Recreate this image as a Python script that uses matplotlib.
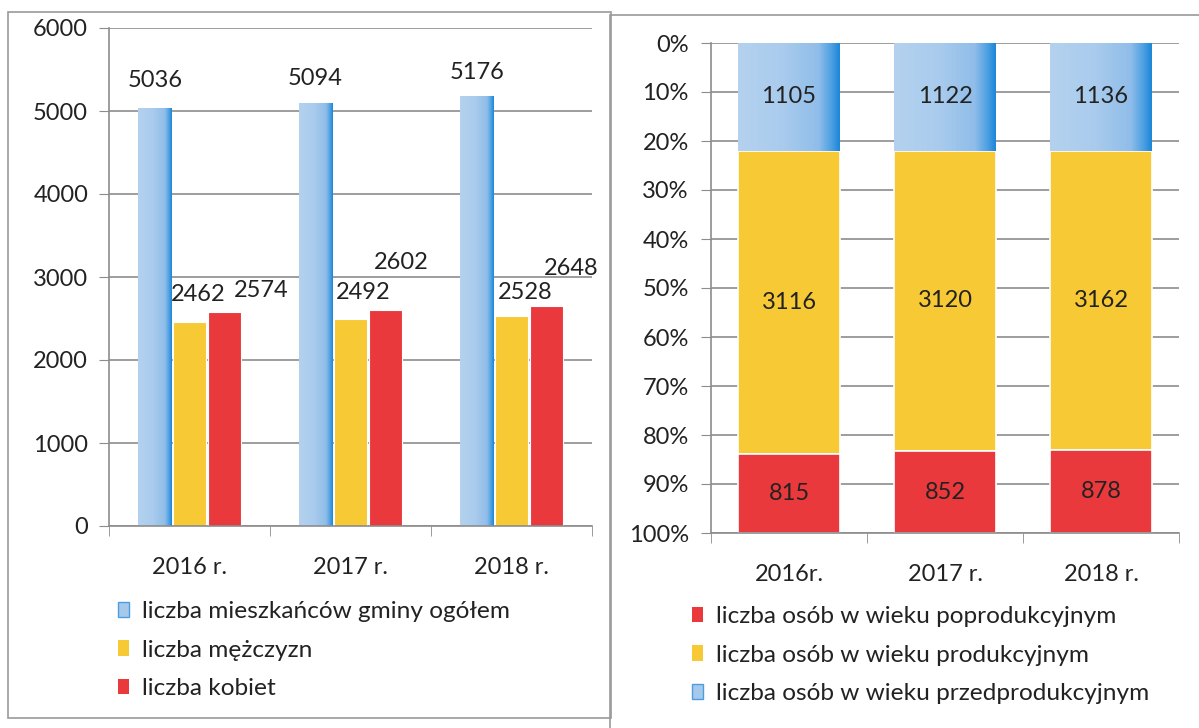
import matplotlib
matplotlib.use("Agg")
import matplotlib.pyplot as plt
from matplotlib.patches import Patch, Rectangle
from matplotlib.colors import LinearSegmentedColormap
import numpy as np

plt.rcParams['font.family'] = ['Lato', 'DejaVu Sans']

# ---- data ----
years_left = ["2016 r.", "2017 r.", "2018 r."]
total = [5036, 5094, 5176]
men = [2462, 2492, 2528]
women = [2574, 2602, 2648]
left_labels = ["liczba mieszkańców gminy ogółem", "liczba mężczyzn", "liczba kobiet"]

years_right = ["2016r.", "2017 r.", "2018 r."]
pre_prod = [1105, 1122, 1136]
prod = [3116, 3120, 3162]
post_prod = [815, 852, 878]
right_labels = ["liczba osób w wieku poprodukcyjnym",
                "liczba osób w wieku produkcyjnym",
                "liczba osób w wieku przedprodukcyjnym"]

# ---- style ----
BLUE = '#a6c8ea'
BLUE_EDGE = '#4a9ee2'
YELLOW = '#f6c935'
RED = '#e9393c'
GRID = '#8c8c8c'
FS = 17
LFS = 17.6

blue_cmap = LinearSegmentedColormap.from_list(
    'wc', [(0.0, '#b4d2ef'), (0.45, '#a9cbed'), (0.8, '#8fbde9'), (0.93, '#4a9ee2'), (1.0, '#1f87d8')])

W, H = 1199, 728
fig = plt.figure(figsize=(W / 100, H / 100), dpi=100)
fig.patch.set_facecolor('white')

def fx(px):
    return px / W

def fy(py):
    return 1 - py / H

# panel frames
fig.patches.append(Rectangle((fx(8), fy(718)), fx(611) - fx(8), fy(12) - fy(718),
                             transform=fig.transFigure, fill=False, ec='#9a9a9a', lw=1.2))
fig.patches.append(Rectangle((fx(610), fy(740)), fx(1205) - fx(610), fy(15) - fy(740),
                             transform=fig.transFigure, fill=False, ec='#9a9a9a', lw=1.2))

def style_axes(ax, ypad):
    for s in ['top', 'right']:
        ax.spines[s].set_visible(False)
    for s in ['left', 'bottom']:
        ax.spines[s].set_color(GRID)
        ax.spines[s].set_linewidth(1.2)
    ax.set_axisbelow(True)
    ax.grid(axis='y', color=GRID, lw=1.2)
    ax.tick_params(axis='y', length=7, color=GRID, labelsize=FS, labelcolor='#222222', pad=ypad)
    ax.tick_params(axis='x', which='major', length=0, labelsize=FS, labelcolor='#222222', pad=22)
    ax.tick_params(axis='x', which='minor', length=7, color=GRID)

def watercolor(ax, bars):
    grad = np.linspace(0, 1, 64).reshape(1, -1)
    for p in bars:
        x0, y0 = p.get_x(), p.get_y()
        x1, y1 = x0 + p.get_width(), y0 + p.get_height()
        im = ax.imshow(grad, cmap=blue_cmap, aspect='auto', extent=[x0, x1, y0, y1],
                       zorder=p.get_zorder() + 0.01, interpolation='bilinear')
        im.set_clip_path(p)

# ---- left chart ----
axL = fig.add_axes([fx(109), fy(526), fx(592) - fx(109), fy(28) - fy(526)])
x = np.arange(len(years_left))
bw = 0.21
off = 0.217
b1 = axL.bar(x - off, total, bw, color=BLUE, edgecolor='none')
b2 = axL.bar(x, men, bw, color=YELLOW, edgecolor='white', lw=0.8)
b3 = axL.bar(x + off, women, bw, color=RED, edgecolor='white', lw=0.8)
watercolor(axL, b1)
axL.set_xlim(-0.5, 2.5)
axL.set_ylim(0, 6000)
axL.set_yticks(np.arange(0, 6001, 1000))
axL.set_xticks(x)
axL.set_xticklabels(years_left)
axL.set_xticks([-0.5, 0.5, 1.5, 2.5], minor=True)
style_axes(axL, 8)

# data label offsets (pixels) to mimic the original placement
lab_off = {
    0: [(1, 28), (0, 25), (1, 24)],
    1: [(9, 27), (13, 27), (14, 24)],
    2: [(37, 22), (16, 48), (25, 38)],
}
for si, bars in enumerate([b1, b2, b3]):
    for i, r in enumerate(bars):
        v = [total, men, women][si][i]
        dx, dy = lab_off[si][i]
        axL.annotate(f"{v}", (r.get_x() + r.get_width() / 2, r.get_height()),
                     xytext=(dx, dy), textcoords='offset pixels',
                     ha='center', va='center', fontsize=FS, color='#222222')

hL = [Patch(facecolor=BLUE, edgecolor=BLUE_EDGE, lw=1.0),
      Patch(facecolor=YELLOW), Patch(facecolor=RED)]
fig.legend(hL, left_labels, loc='upper left', bbox_to_anchor=(fx(118), fy(601)),
           frameon=False, fontsize=LFS, handlelength=0.45, handleheight=0.6,
           handletextpad=0.55, labelspacing=0.72, borderpad=0, borderaxespad=0,
           labelcolor='#222222')

# ---- right chart ----
axR = fig.add_axes([fx(711), fy(533), fx(1179) - fx(711), fy(43) - fy(533)])
tot = np.array(pre_prod) + np.array(prod) + np.array(post_prod)
p_pre = np.array(pre_prod) / tot
p_prod = np.array(prod) / tot
p_post = np.array(post_prod) / tot
xr = np.arange(len(years_right))
bwr = 0.65
r1 = axR.bar(xr, p_pre, bwr, color=BLUE, edgecolor='none')
r2 = axR.bar(xr, p_prod, bwr, bottom=p_pre, color=YELLOW, edgecolor='white', lw=1.2)
r3 = axR.bar(xr, p_post, bwr, bottom=p_pre + p_prod, color=RED, edgecolor='white', lw=1.2)
watercolor(axR, r1)
axR.set_ylim(1, 0)
axR.set_xlim(-0.5, 2.5)
axR.set_yticks(np.linspace(0, 1, 11))
axR.set_yticklabels([f"{int(round(t * 100))}%" for t in np.linspace(0, 1, 11)])
axR.set_xticks(xr)
axR.set_xticklabels(years_right)
axR.set_xticks([-0.5, 0.5, 1.5, 2.5], minor=True)
style_axes(axR, 9)

for bars, vals in [(r1, pre_prod), (r2, prod), (r3, post_prod)]:
    for r, v in zip(bars, vals):
        axR.text(r.get_x() + r.get_width() / 2, r.get_y() + r.get_height() / 2, f"{v}",
                 ha='center', va='center', fontsize=FS, color='#222222', zorder=5)

hR = [Patch(facecolor=RED), Patch(facecolor=YELLOW),
      Patch(facecolor=BLUE, edgecolor=BLUE_EDGE, lw=1.0)]
fig.legend(hR, right_labels, loc='upper left', bbox_to_anchor=(fx(692), fy(606)),
           frameon=False, fontsize=LFS, handlelength=0.45, handleheight=0.6,
           handletextpad=0.55, labelspacing=0.72, borderpad=0, borderaxespad=0,
           labelcolor='#222222')

fig.savefig("out.png", dpi=100, facecolor='white')
